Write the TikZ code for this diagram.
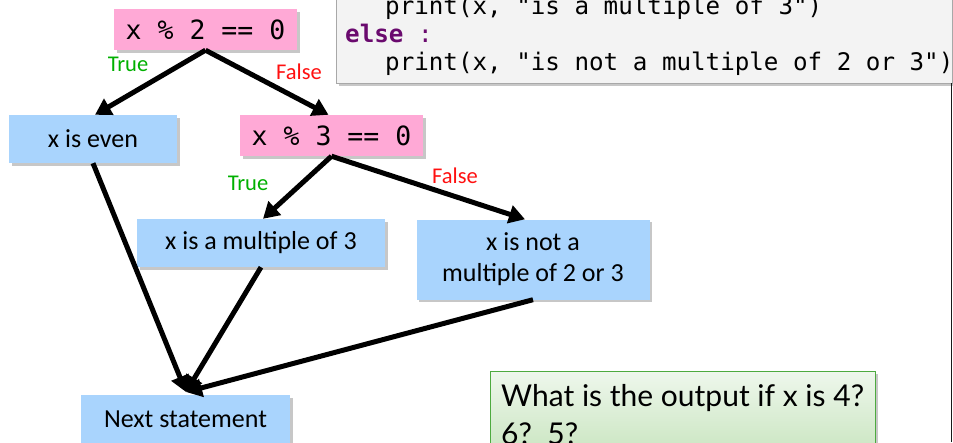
\documentclass[tikz,border=0pt]{standalone}
\usepackage{fontspec}
\setmainfont{Carlito}
\newfontfamily\codefont{DejaVu Sans Mono}
\newfontfamily\qfont{Lato}
\usetikzlibrary{arrows.meta,shadows,calc}
\definecolor{pinkbox}{HTML}{FFA9D6}
\definecolor{bluebox}{HTML}{A9D4FD}
\definecolor{codebg}{HTML}{F3F3F3}
\definecolor{codeborder}{HTML}{A8A8A8}
\definecolor{kwpurple}{HTML}{6A0A6E}
\definecolor{truegreen}{HTML}{00B000}
\definecolor{falsered}{HTML}{FF1010}
\definecolor{qtop}{HTML}{EEF7EC}
\definecolor{qbottom}{HTML}{CBE6C2}
\definecolor{qborder}{HTML}{4DAA3F}
\tikzset{
  shadowed/.style={drop shadow={shadow xshift=2.5pt,shadow yshift=-2.5pt,fill=black,opacity=0.22}},
  condbox/.style={rectangle, fill=pinkbox, shadowed, inner sep=0pt, minimum width=183pt, minimum height=41pt,
    font=\codefont\fontsize{26.5}{30}\selectfont},
  stmtbox/.style={rectangle, fill=bluebox, shadowed, inner sep=0pt, align=center,
    font=\fontsize{26}{31}\selectfont},
  codeline/.style={anchor=base west, inner sep=0pt, font=\codefont\fontsize{24.2}{28}\selectfont},
  flow/.style={line width=5pt, -{Triangle[length=16pt,width=18pt]}},
  truelbl/.style={text=truegreen, inner sep=0pt, font=\fontsize{22.5}{26}\selectfont},
  falselbl/.style={text=falsered, inner sep=0pt, font=\fontsize{22.5}{26}\selectfont},
  qline/.style={anchor=base west, inner sep=0pt, font=\qfont\fontsize{30}{36}\selectfont},
}
\begin{document}
\begin{tikzpicture}[x=1pt,y=-1pt]
\useasboundingbox (0,0) rectangle (953,442);
\clip (0,0) rectangle (953,442);

% code box
\node[rectangle, draw=codeborder, line width=1pt, fill=codebg, shadowed, inner sep=0pt,
      minimum width=616pt, minimum height=113pt] (code) at (644,26.5) {};
\node[codeline] (l1) at (385,14) {print(x, "is a multiple of 3")};
\node[codeline, text=kwpurple] (l2) at (345,42) {\textbf{else}\space:};
\node[codeline] (l3) at (385,70) {print(x, "is not a multiple of 2 or 3")};
\draw[line width=1.6pt, black!90] (951.5,83) -- (951.5,442);

% flowchart nodes
\node[condbox] (c2) at (205.5,29.5) {x \% 2 == 0};
\node[stmtbox, minimum width=168pt, minimum height=48pt] (even) at (93,139) {x is even};
\node[condbox] (c3) at (331.5,135.5) {x \% 3 == 0};
\node[stmtbox, minimum width=248pt, minimum height=48pt] (m3) at (261,243) {x is a multiple of 3};
\node[stmtbox, minimum width=233pt, minimum height=80pt] (notm) at (533,259.5) {x is not a\\multiple of 2 or 3};
\node[stmtbox, minimum width=209pt, minimum height=48pt] (next) at (185.5,419) {Next statement};
\coordinate (conv) at (186,392);

% labels
\node[truelbl] (t1) at (128,64) {True};
\node[falselbl] (f1) at (299,72) {False};
\node[truelbl] (t2) at (248,183) {True};
\node[falselbl] (f2) at (455,176) {False};

% connectors
\draw[flow] (c2.south) -- ([xshift=2pt]even.north);
\draw[flow] (c2.south) -- ([xshift=-3pt]c3.north);
\draw[flow] (c3.south) -- ([xshift=2pt]m3.north);
\draw[flow] (c3.south) -- ([xshift=-8pt]notm.north);
\draw[flow] (even.south) -- (conv);
\draw[flow] (m3.south) -- (conv);
\draw[flow] (notm.south) -- (conv);

% question box
\node[rectangle, draw=qborder, line width=1pt, top color=qtop, bottom color=qbottom, shadowed,
      inner sep=0pt, minimum width=385pt, minimum height=80pt, anchor=north west] (q) at (490,371) {};
\node[qline] (q1) at (501,406) {What is the output if x is 4?};
\node[qline] (q2) at (501,444) {6?\ \ 5?};
\end{tikzpicture}
\end{document}
